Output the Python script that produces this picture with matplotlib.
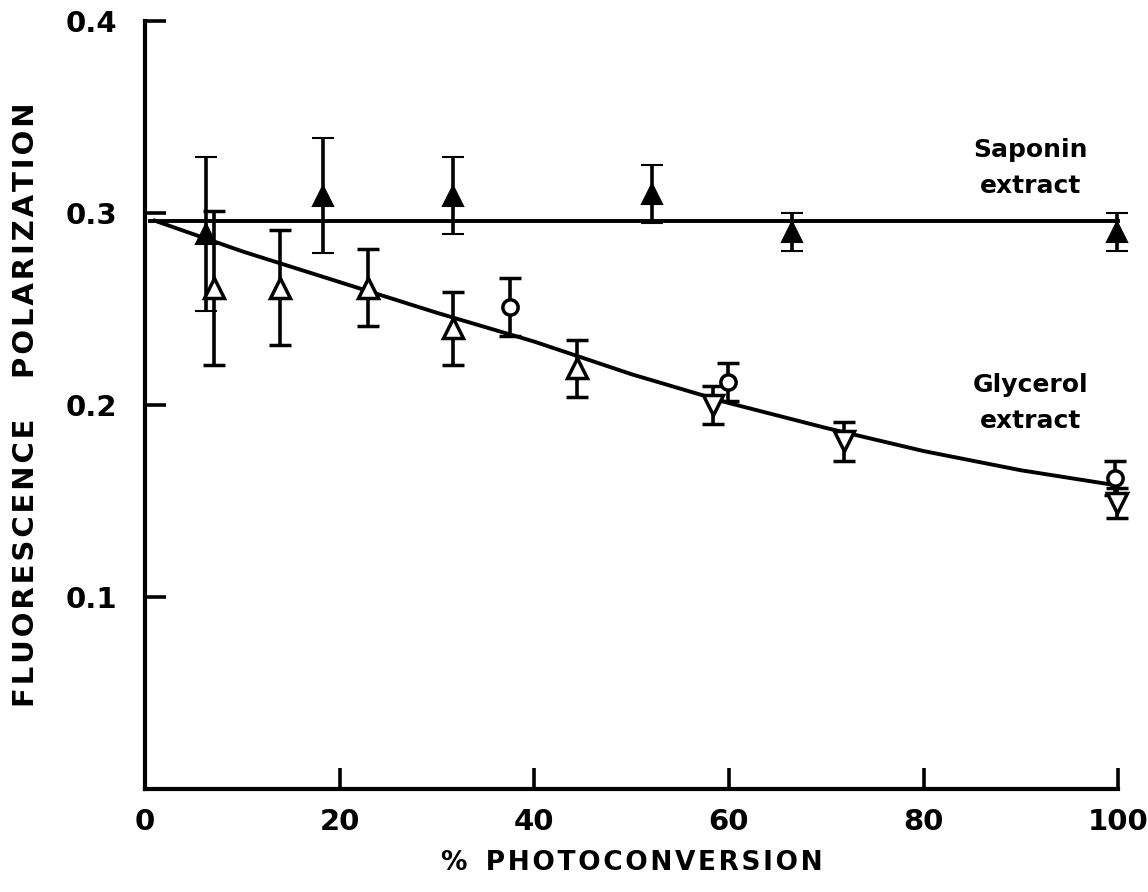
import numpy as np
import matplotlib.pyplot as plt

# Saponin extract (filled triangles)
sap_x = [6.3, 18.3, 31.7, 52.1, 66.5, 99.9]
sap_y = [0.289, 0.309, 0.309, 0.310, 0.290, 0.290]
sap_err = [0.040, 0.030, 0.020, 0.015, 0.010, 0.010]

# Glycerol extract, three symbol sets
up_x = [7.1, 13.9, 22.9, 31.7, 44.4]
up_y = [0.261, 0.261, 0.261, 0.240, 0.219]
up_err = [0.040, 0.030, 0.020, 0.019, 0.015]

circ_x = [37.5, 59.9, 99.7]
circ_y = [0.251, 0.212, 0.162]
circ_err = [0.015, 0.010, 0.009]

down_x = [58.4, 71.8, 99.9]
down_y = [0.200, 0.181, 0.149]
down_err = [0.010, 0.010, 0.008]

# drawn-in curves
sap_fit_x = [0.5, 100]
sap_fit_y = [0.296, 0.296]
gly_fit_x = [1, 10, 20, 30, 40, 50, 60, 70, 80, 90, 100]
gly_fit_y = [0.296, 0.280, 0.264, 0.248, 0.233, 0.216, 0.201, 0.188, 0.176, 0.166, 0.158]

xticks = [0, 20, 40, 60, 80, 100]
yticks = [0.1, 0.2, 0.3, 0.4]


def spaced(s):
    # a little extra letter spacing (hair spaces), like the typeset original
    return '\u200a'.join(s)


plt.rcParams['font.family'] = ['DejaVu Sans']
fig = plt.figure(figsize=(11.48, 8.92), dpi=100)
ax = fig.add_axes([0.1263, 0.1155, 0.8477, 0.861])

ax.plot(sap_fit_x, sap_fit_y, color='black', lw=2.8, clip_on=False, zorder=2)
ax.plot(gly_fit_x, gly_fit_y, color='black', lw=2.8, clip_on=False, zorder=2)

ebkw = dict(ecolor='black', elinewidth=2.6, capsize=8, capthick=2.8,
            linestyle='none', clip_on=False, zorder=3)
ax.errorbar(sap_x, sap_y, yerr=sap_err, marker='^', ms=15, mfc='black',
            mec='black', mew=1.5, **ebkw)
ax.errorbar(up_x, up_y, yerr=up_err, marker='^', ms=15, mfc='white',
            mec='black', mew=2.5, **ebkw)
ax.errorbar(circ_x, circ_y, yerr=circ_err, marker='o', ms=11, mfc='white',
            mec='black', mew=2.5, **ebkw)
ax.errorbar(down_x, down_y, yerr=down_err, marker='v', ms=15, mfc='white',
            mec='black', mew=2.5, **ebkw)

ax.set_xlim(0, 100)
ax.set_ylim(0, 0.4)
ax.set_xticks(xticks)
ax.set_xticklabels([str(t) for t in xticks])
ax.set_yticks(yticks)
ax.set_yticklabels([str(t) for t in yticks])
ax.spines['top'].set_visible(False)
ax.spines['right'].set_visible(False)
for s in ['left', 'bottom']:
    ax.spines[s].set_linewidth(3)
ax.tick_params(direction='in', length=15, width=2.6, labelsize=21, pad=14)
ax.tick_params(axis='y', pad=20)
for lab in ax.get_xticklabels() + ax.get_yticklabels():
    lab.set_fontweight('bold')

ax.set_xlabel('%  ' + spaced('PHOTOCONVERSION'), fontsize=19, fontweight='bold',
              labelpad=10)
ax.set_ylabel(spaced('FLUORESCENCE') + '    ' + spaced('POLARIZATION'),
              fontsize=21, fontweight='bold', labelpad=18)

ax.text(91.0, 0.3235, 'Saponin\nextract', fontsize=18,
        fontweight='bold', ha='center', va='center', linespacing=1.6)
ax.text(91.0, 0.201, 'Glycerol\nextract', fontsize=18,
        fontweight='bold', ha='center', va='center', linespacing=1.6)

fig.savefig('out.png', dpi=100)
